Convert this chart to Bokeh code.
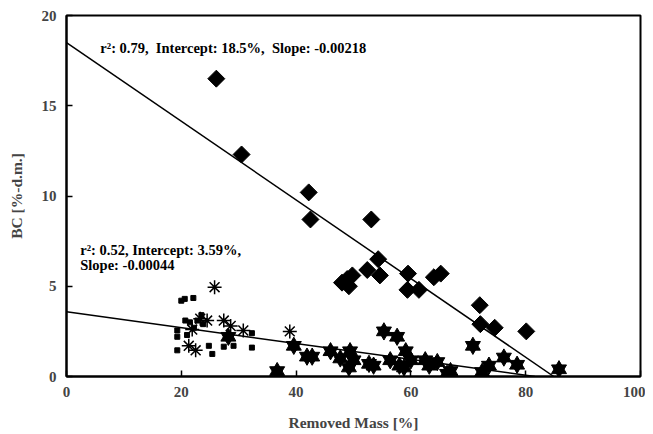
from bokeh.plotting import figure
from bokeh.models import Label, FixedTicker
from bokeh.embed import file_html
from bokeh.resources import INLINE
import math

# Diamonds series
dia_x = [26.1, 30.5, 42.2, 42.5, 53.1, 54.3, 52.4, 54.6, 48.9, 49.8, 48.0, 49.2,
         59.5, 59.4, 61.4, 64.0, 65.2, 72.0, 72.1, 74.6, 80.1]
dia_y = [16.5, 12.3, 10.2, 8.7, 8.7, 6.5, 5.9, 5.6, 5.4, 5.6, 5.2, 5.0,
         5.7, 4.8, 4.8, 5.5, 5.7, 3.95, 2.9, 2.7, 2.5]

# Six-pointed star series
star_x = [28.2, 36.7, 39.6, 41.9, 42.8, 46.0, 47.7, 49.4, 49.2, 50.0, 52.7, 53.5,
          55.3, 57.6, 56.4, 58.0, 59.1, 58.8, 60.0, 62.5, 63.2, 64.6, 66.3, 66.9,
          70.8, 72.4, 73.6, 76.2, 78.5, 85.8]
star_y = [2.2, 0.3, 1.7, 1.1, 1.1, 1.4, 1.0, 1.4, 0.5, 0.9, 0.7, 0.6,
          2.5, 2.2, 0.9, 0.6, 1.4, 0.5, 0.9, 0.9, 0.6, 0.8, 0.15, 0.3,
          1.7, 0.25, 0.6, 1.05, 0.65, 0.4]

# Asterisk series
ast_x = [25.8, 23.3, 24.5, 27.4, 28.6, 30.8, 21.3, 22.5, 21.9, 38.9]
ast_y = [4.95, 3.2, 3.1, 3.1, 2.8, 2.55, 1.7, 1.45, 2.6, 2.5]

# Small squares series
sq_x = [20.0, 20.6, 22.1, 19.3, 19.3, 19.3, 20.7, 21.5, 22.8, 22.2, 23.8, 24.8,
        25.4, 27.4, 29.1, 28.0, 32.3, 32.3, 21.0, 23.5]
sq_y = [4.2, 4.3, 4.35, 2.55, 2.2, 1.45, 3.1, 3.0, 3.1, 2.7, 2.9, 1.7,
        1.25, 1.65, 1.7, 2.2, 2.4, 1.6, 2.3, 3.4]

# Regression lines
fit1_x = [0, 84.9]
fit1_y = [18.5, 0.0]
fit2_x = [0, 81.6]
fit2_y = [3.59, 0.0]

x_ticks = [0, 20, 40, 60, 80, 100]
y_ticks = [0, 5, 10, 15, 20]

FONT = "Liberation Serif"

p = figure(width=645, height=433, x_range=(0, 100), y_range=(0, 20),
           output_backend="svg", toolbar_location=None,
           min_border_left=66, min_border_right=5, min_border_top=15, min_border_bottom=57)
p.xgrid.visible = False
p.ygrid.visible = False
p.outline_line_color = "black"
p.outline_line_width = 2

for ax in (p.xaxis[0], p.yaxis[0]):
    ax.axis_line_width = 2
    ax.major_tick_in = 6
    ax.major_tick_out = 0
    ax.minor_tick_in = 0
    ax.minor_tick_out = 0
    ax.major_tick_line_width = 1.5
    ax.major_label_text_font = FONT
    ax.major_label_text_font_style = "bold"
    ax.major_label_text_font_size = "15px"
    ax.axis_label_text_font = FONT
    ax.axis_label_text_font_style = "bold"
    ax.axis_label_text_font_size = "15.5px"

p.xaxis.ticker = FixedTicker(ticks=x_ticks)
p.yaxis.ticker = FixedTicker(ticks=y_ticks)
p.xaxis.axis_label = "Removed Mass [%]"
p.yaxis.axis_label = "BC [%-d.m.]"
p.xaxis.major_label_standoff = 10
p.xaxis.axis_label_standoff = 14
p.yaxis.major_label_standoff = 10
p.yaxis.axis_label_standoff = 14

p.line(fit1_x, fit1_y, line_color="black", line_width=1.5)
p.line(fit2_x, fit2_y, line_color="black", line_width=1.5)

p.scatter(sq_x, sq_y, marker="square", size=5, fill_color="black", line_color="black")
p.scatter(ast_x, ast_y, marker="asterisk", size=14, line_color="black", line_width=1.5)
p.scatter(star_x, star_y, marker="triangle", size=15, fill_color="black", line_color="black")
p.scatter(star_x, star_y, marker="inverted_triangle", size=15, fill_color="black", line_color="black")
p.scatter(dia_x, dia_y, marker="square", size=12, angle=math.pi / 4,
          fill_color="black", line_color="black")

lbl_kw = dict(text_font=FONT, text_font_style="bold", text_font_size="14.5px",
              text_color="black", text_baseline="middle")
p.add_layout(Label(x=5.9, y=18.2,
                   text="r²: 0.79,\u00a0 Intercept: 18.5%,\u00a0 Slope: -0.00218", **lbl_kw))
p.add_layout(Label(x=2.4, y=7.0, text="r²: 0.52, Intercept: 3.59%,", **lbl_kw))
p.add_layout(Label(x=2.4, y=6.15, text="Slope: -0.00044", **lbl_kw))

open("out.html", "w").write(file_html(p, INLINE))
